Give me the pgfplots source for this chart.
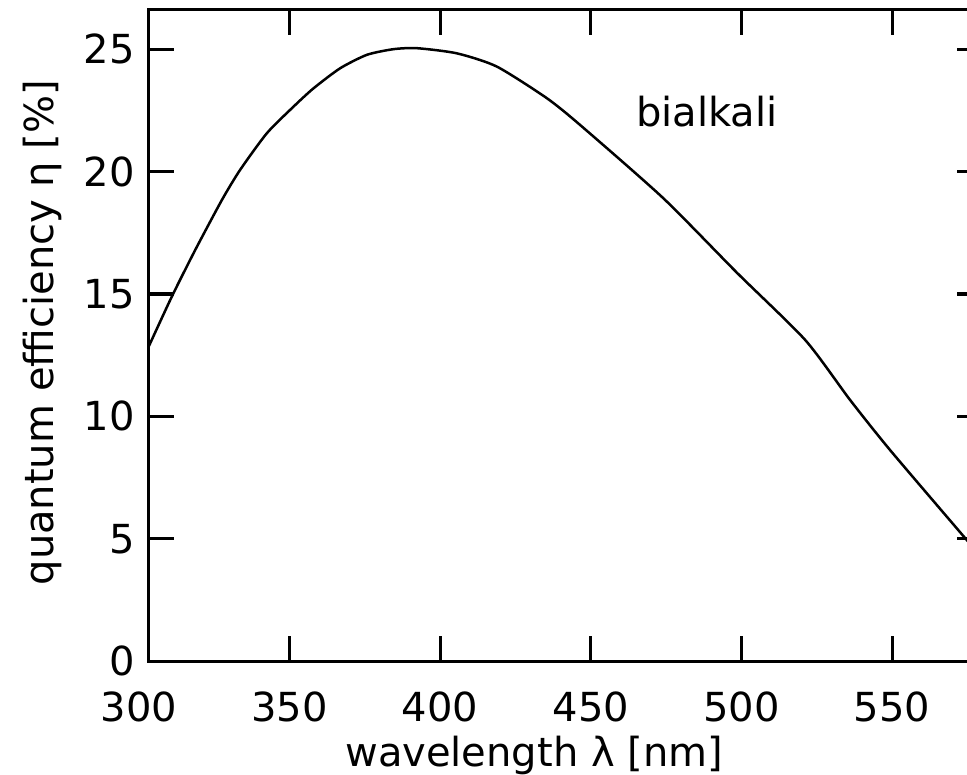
\documentclass[border=0pt]{standalone}
\usepackage{fontspec}
\setmainfont{DejaVu Sans}
\usepackage{pgfplots}
\pgfplotsset{compat=1.18}

\begin{document}
\fontsize{20bp}{24bp}\selectfont
\begin{tikzpicture}
\begin{axis}[
    scale only axis,
    width=416.75bp, height=325.5bp,
    xmin=303.2, xmax=580,
    ymin=0, ymax=26.6,
    xtick={350,400,450,500,550},
    ytick={0,5,10,15,20,25},
    tick align=inside,
    major tick length=12.5bp,
    every tick/.style={line width=1.5bp, black},
    axis line style={line width=1.5bp},
    /pgf/number format/assume math mode=true,
    xticklabel style={yshift=-8.3bp},
    xlabel={wavelength λ [nm]},
    ylabel={quantum efficiency η [\%]},
    xlabel style={at={([yshift=-47bp]axis description cs:0.4625,0)}, anchor=center},
    ylabel style={at={([xshift=-53bp]axis description cs:0,0.5046)}, anchor=center},
    clip=false,
]
% bialkali photocathode QE curve
\addplot[black, line width=1.25bp, smooth, tension=0.4] coordinates {
    (303.2,12.84) (310.95,14.9) (318.7,16.8) (327.55,18.84) (333.6,20.07)
    (342.5,21.57) (351.3,22.65) (357.95,23.4) (366.8,24.22) (375.7,24.77)
    (384.5,25.0) (392.3,25.04) (405.55,24.83) (418.8,24.29) (435.4,23.0)
    (446.5,21.9) (474.1,18.91) (498.6,15.86) (521.2,13.12) (536.1,10.67)
    (549.4,8.62) (574.9,4.94) (580,4.2)
};
\node[anchor=base] at (axis cs:488.5,21.84) {bialkali};
% 300 sits just left of the axis box, so its tick is dropped
\node[anchor=north, inner sep=0.333em, yshift=-8.3bp] at (axis cs:300,0) {300};
\coordinate (R) at (axis cs:574.9,26.6);
\end{axis}
\pgfresetboundingbox
\useasboundingbox ([xshift=-74.25bp,yshift=-56.5bp]current axis.south west) rectangle ([yshift=5bp]R);
\end{tikzpicture}
\end{document}
